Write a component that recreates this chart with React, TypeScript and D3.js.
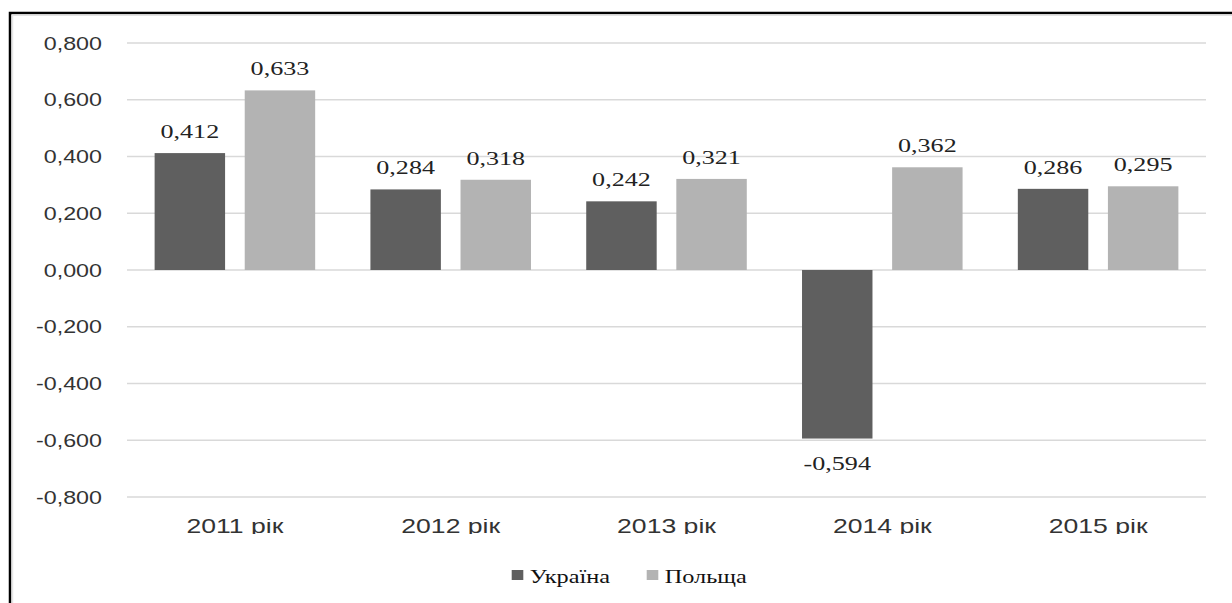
import React, { useEffect, useRef } from "react";
import * as d3 from "d3";

const categories = ["2011 рік", "2012 рік", "2013 рік", "2014 рік", "2015 рік"];
const seriesNames = ["Україна", "Польща"];
const ukraine = [0.412, 0.284, 0.242, -0.594, 0.286];
const poland = [0.633, 0.318, 0.321, 0.362, 0.295];
const yTicks = [0.8, 0.6, 0.4, 0.2, 0, -0.2, -0.4, -0.6, -0.8];
const colors = ["#5f5f5f", "#b3b3b3"];

const W = 1232;
const H = 603;
const SX = 1.33; // the picture is stretched sideways

export default function App() {
  const ref = useRef<SVGSVGElement | null>(null);

  useEffect(() => {
    const svg = d3.select(ref.current);
    svg.selectAll("*").remove();

    const left = 127;
    const right = 1206;
    const top = 43;
    const bottom = 497;

    const fmt = d3.formatLocale({
      decimal: ",",
      thousands: " ",
      grouping: [3],
      currency: ["", ""],
      minus: "-",
    }).format(".3f");

    const y = d3.scaleLinear().domain([-0.8, 0.8]).range([bottom, top]);
    const x0 = d3.scaleBand<string>()
      .domain(categories)
      .range([left, right])
      .paddingInner(0.256)
      .paddingOuter(0.128);
    const x1 = d3.scaleBand<string>()
      .domain(seriesNames)
      .range([0, x0.bandwidth()])
      .paddingInner(0.218);

    // frame
    svg.append("rect")
      .attr("x", 10).attr("y", 13)
      .attr("width", 1400).attr("height", 800)
      .attr("fill", "none").attr("stroke", "#000").attr("stroke-width", 2.5);
    svg.append("line").attr("x1", 12).attr("x2", W).attr("y1", 15).attr("y2", 15)
      .attr("stroke", "#d8d8d8").attr("stroke-width", 1.5);
    svg.append("line").attr("x1", 12.5).attr("x2", 12.5).attr("y1", 15).attr("y2", H)
      .attr("stroke", "#e6e6e6").attr("stroke-width", 1.5);

    // grid
    svg.append("g").selectAll("line")
      .data(yTicks)
      .enter().append("line")
        .attr("x1", left).attr("x2", right)
        .attr("y1", (d) => y(d)).attr("y2", (d) => y(d))
        .attr("stroke", "#d9d9d9").attr("stroke-width", 1.3);

    svg.append("g").selectAll("text")
      .data(yTicks)
      .enter().append("text")
        .attr("transform", (d) => "translate(102," + (y(d) + 6.5) + ") scale(" + SX + ",1)")
        .attr("text-anchor", "end")
        .attr("font-family", "Liberation Sans, Arial, sans-serif")
        .attr("font-size", 17.5)
        .attr("fill", "#333")
        .text((d) => fmt(d));

    // bars
    const rows = categories.map((c, i) => ({ cat: c, vals: [ukraine[i], poland[i]] }));
    const groups = svg.append("g").selectAll("g")
      .data(rows)
      .enter().append("g")
        .attr("transform", (d) => "translate(" + x0(d.cat) + ",0)");

    const cells = groups.selectAll("g")
      .data((d) => d.vals.map((v, j) => ({ name: seriesNames[j], v, j })))
      .enter().append("g");

    cells.append("rect")
      .attr("x", (d) => x1(d.name) as number)
      .attr("y", (d) => y(Math.max(0, d.v)))
      .attr("width", x1.bandwidth())
      .attr("height", (d) => Math.abs(y(d.v) - y(0)))
      .attr("fill", (d) => colors[d.j]);

    cells.append("text")
      .attr("transform", (d) => {
        const cx = (x1(d.name) as number) + x1.bandwidth() / 2;
        const ty = d.v >= 0 ? y(d.v) - 15 : y(d.v) + 31;
        return "translate(" + cx + "," + ty + ") scale(1.45,1)";
      })
      .attr("text-anchor", "middle")
      .attr("font-family", "Liberation Serif, Times New Roman, serif")
      .attr("font-size", 18)
      .attr("fill", "#222")
      .text((d) => fmt(d.v));

    // x labels, top of the glyphs is cut in the original
    svg.append("clipPath").attr("id", "xclip")
      .append("rect").attr("x", 0).attr("y", 519).attr("width", W).attr("height", 15);
    svg.append("g").attr("clip-path", "url(#xclip)")
      .selectAll("text")
      .data(categories)
      .enter().append("text")
        .attr("transform", (d) => "translate(" + ((x0(d) as number) + x0.bandwidth() / 2) + ",533) scale(" + SX + ",1)")
        .attr("text-anchor", "middle")
        .attr("font-family", "Liberation Sans, Arial, sans-serif")
        .attr("font-size", 20)
        .attr("fill", "#333")
        .text((d) => d);

    // legend
    const legendX = [511.7, 646.7];
    const leg = svg.append("g").selectAll("g")
      .data(seriesNames)
      .enter().append("g")
        .attr("transform", (d, i) => "translate(" + legendX[i] + ",0)");
    leg.append("rect")
      .attr("x", 0).attr("y", 570)
      .attr("width", 11.6).attr("height", 10)
      .attr("fill", (d, i) => colors[i]);
    leg.append("text")
      .attr("transform", "translate(18,582.5) scale(1.35,1)")
      .attr("font-family", "Liberation Serif, Times New Roman, serif")
      .attr("font-size", 18)
      .attr("fill", "#111")
      .text((d) => d);
  }, []);

  return (
    <svg
      ref={ref}
      width={W}
      height={H}
      style={{ position: "absolute", left: 0, top: 0, background: "#fff" }}
    ></svg>
  );
}
